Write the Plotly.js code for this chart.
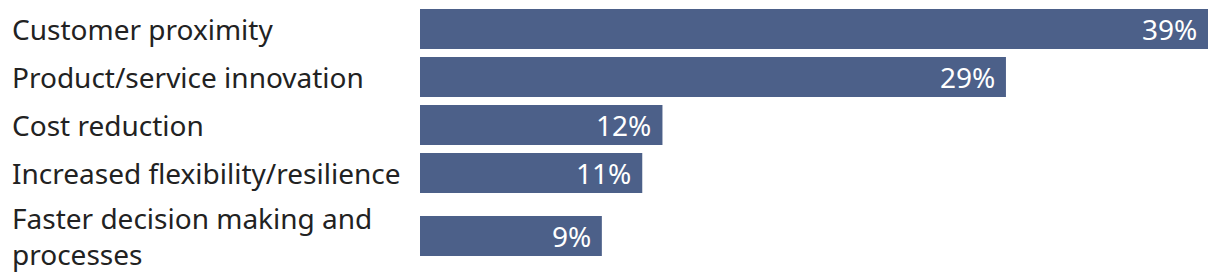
<!DOCTYPE html>
<html>
<head>
<meta charset="utf-8">
<script src="https://cdn.plot.ly/plotly-3.0.1.min.js"></script>
<style>
  html, body { margin: 0; padding: 0; background: #ffffff; }
  #chart { width: 1220px; height: 280px; }
</style>
</head>
<body>
<div id="chart"></div>
<script>
// ---- data ----
const categories = [
  "Customer proximity",
  "Product/service innovation",
  "Cost reduction",
  "Increased flexibility/resilience",
  "Faster decision making and<br>processes"
];
const values = [39, 29, 12, 11, 9];
const valueLabels = ["39%", "29%", "12%", "11%", "9%"];

// ---- styling / layout constants ----
const FONT = "Noto Sans, Open Sans, sans-serif";
const FONT_SIZE = 28;
const LINE_H = 30;      // px per label line (row sizing)
const ROW_PAD = 18;     // extra px per row
const BAR_T = 40;       // bar thickness in px
const BAR_COLOR = "#4c6089";
const TEXT_COLOR = "#222222";

// row positions derived from label line counts (y axis units = px)
const lines = categories.map(c => c.split("<br>").length);
const rowPos = [];
let acc = 0;
lines.forEach(n => {
  const h = ROW_PAD + LINE_H * n;
  rowPos.push(acc + h / 2);
  acc += h;
});
const totalH = acc;

const marginL = 420, marginR = 12, marginT = 5;
const marginB = 280 - marginT - totalH;

const trace = {
  type: "bar",
  orientation: "h",
  x: values,
  y: rowPos,
  width: BAR_T,
  marker: { color: BAR_COLOR },
  hoverinfo: "skip"
};

const annotations = [];
categories.forEach((c, i) => {
  annotations.push({
    xref: "paper", yref: "y",
    x: 0, y: rowPos[i],
    xshift: -(marginL - 10),
    xanchor: "left", yanchor: "middle",
    text: c, showarrow: false, align: "left",
    font: { family: FONT, size: FONT_SIZE, color: TEXT_COLOR }
  });
});
values.forEach((v, i) => {
  annotations.push({
    xref: "x", yref: "y",
    x: v, y: rowPos[i],
    xshift: -9,
    xanchor: "right", yanchor: "middle",
    text: valueLabels[i], showarrow: false,
    font: { family: FONT, size: FONT_SIZE, color: "#ffffff" }
  });
});

const layout = {
  width: 1220, height: 280,
  margin: { l: marginL, r: marginR, t: marginT, b: marginB, pad: 0 },
  paper_bgcolor: "#ffffff",
  plot_bgcolor: "#ffffff",
  showlegend: false,
  xaxis: { range: [0, 39], visible: false, fixedrange: true },
  yaxis: { range: [totalH, 0], visible: false, fixedrange: true },
  annotations: annotations,
  font: { family: FONT }
};

Plotly.newPlot("chart", [trace], layout, { displayModeBar: false, staticPlot: true });
</script>
</body>
</html>
